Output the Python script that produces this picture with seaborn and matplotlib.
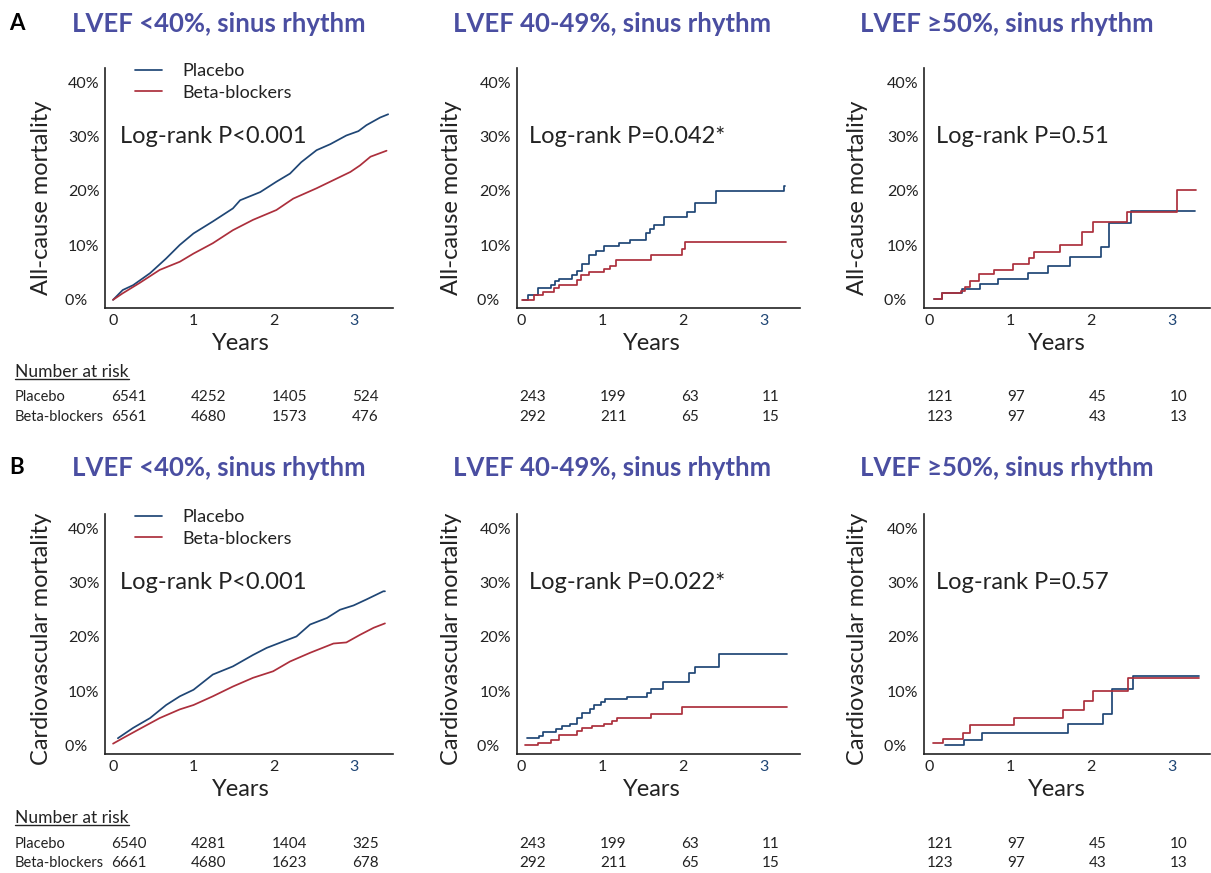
import matplotlib.pyplot as plt
import matplotlib.transforms as mtransforms
from matplotlib.lines import Line2D
import seaborn as sns

# ---- values ----
years = [0, 1, 2, 3]
group_names = ['Placebo', 'Beta-blockers']
col_titles = ['LVEF <40%, sinus rhythm', 'LVEF 40-49%, sinus rhythm', 'LVEF \u226550%, sinus rhythm']
row_letters = ['A', 'B']
row_ylabels = ['All-cause mortality', 'Cardiovascular mortality']
logrank_a = ['Log-rank P<0.001', 'Log-rank P=0.042*', 'Log-rank P=0.51']
logrank_b = ['Log-rank P<0.001', 'Log-rank P=0.022*', 'Log-rank P=0.57']

# number at risk, per column: [placebo, beta-blockers]
risk_a = [[[6541, 4252, 1405, 524], [6561, 4680, 1573, 476]],
          [[243, 199, 63, 11], [292, 211, 65, 15]],
          [[121, 97, 45, 10], [123, 97, 43, 13]]]
risk_b = [[[6540, 4281, 1404, 325], [6661, 4680, 1623, 678]],
          [[243, 199, 63, 11], [292, 211, 65, 15]],
          [[121, 97, 45, 10], [123, 97, 43, 13]]]

# cumulative mortality (%) vs years
a1_plac_t = [0, 0.12, 0.25, 0.46, 0.66, 0.83, 1.0, 1.24, 1.49, 1.58, 1.83, 2.03, 2.20, 2.34, 2.53, 2.70, 2.90, 3.05, 3.15, 3.32, 3.42]
a1_plac_y = [0, 1.8, 2.7, 4.9, 7.6, 10.1, 12.2, 14.4, 16.8, 18.3, 19.8, 21.7, 23.2, 25.3, 27.5, 28.6, 30.2, 31.0, 32.1, 33.5, 34.1]
a1_beta_t = [0, 0.12, 0.33, 0.58, 0.83, 1.0, 1.24, 1.49, 1.74, 2.03, 2.24, 2.53, 2.74, 2.95, 3.07, 3.20, 3.40]
a1_beta_y = [0, 1.2, 3.1, 5.5, 7.0, 8.5, 10.4, 12.8, 14.7, 16.5, 18.6, 20.5, 22.0, 23.5, 24.7, 26.3, 27.4]

a2_plac_t = [0.02, 0.074, 0.2, 0.37, 0.41, 0.46, 0.62, 0.68, 0.75, 0.84, 0.92, 1.02, 1.21, 1.34, 1.54, 1.59, 1.64, 1.76, 2.05, 2.14, 2.41, 3.25, 3.26]
a2_plac_y = [0, 0.9, 2.1, 2.7, 3.5, 3.9, 4.5, 5.3, 6.5, 8.2, 8.9, 9.9, 10.4, 11.0, 12.2, 13.1, 13.8, 15.2, 16.1, 17.8, 20.0, 21.0, 21.0]
a2_beta_t = [0, 0.15, 0.27, 0.40, 0.46, 0.68, 0.74, 0.84, 1.02, 1.10, 1.17, 1.60, 1.98, 2.02, 3.27]
a2_beta_y = [0, 0.9, 1.5, 2.2, 2.8, 3.7, 4.6, 5.1, 5.6, 6.3, 7.3, 8.3, 9.3, 10.6, 10.6]

a3_plac_t = [0.066, 0.164, 0.41, 0.63, 0.85, 1.22, 1.47, 1.74, 2.12, 2.22, 2.49, 3.28]
a3_plac_y = [0.1, 1.2, 2.0, 2.9, 3.8, 4.9, 6.3, 7.9, 9.8, 14.2, 16.4, 16.4]
a3_beta_t = [0.066, 0.164, 0.395, 0.452, 0.506, 0.617, 0.802, 1.04, 1.24, 1.30, 1.62, 1.89, 2.02, 2.45, 3.06, 3.30]
a3_beta_y = [0.1, 1.2, 1.7, 2.4, 3.5, 4.8, 5.4, 6.6, 7.6, 8.7, 10.0, 12.4, 14.3, 16.1, 20.2, 20.2]

b1_plac_t = [0.06, 0.25, 0.46, 0.66, 0.83, 1.0, 1.24, 1.49, 1.74, 1.91, 2.12, 2.28, 2.45, 2.66, 2.82, 2.99, 3.15, 3.36, 3.38]
b1_plac_y = [1.4, 3.3, 5.1, 7.5, 9.1, 10.3, 13.1, 14.6, 16.7, 18.0, 19.2, 20.1, 22.3, 23.5, 25.0, 25.8, 26.9, 28.4, 28.4]
b1_beta_t = [0, 0.12, 0.33, 0.58, 0.83, 1.0, 1.24, 1.49, 1.74, 1.99, 2.20, 2.45, 2.74, 2.90, 3.07, 3.24, 3.38]
b1_beta_y = [0.4, 1.4, 3.1, 5.1, 6.7, 7.5, 9.1, 10.9, 12.5, 13.7, 15.5, 17.1, 18.8, 19.0, 20.4, 21.7, 22.5]

b2_plac_t = [0.07, 0.21, 0.26, 0.37, 0.42, 0.50, 0.60, 0.68, 0.75, 0.85, 0.90, 0.98, 1.03, 1.30, 1.55, 1.60, 1.75, 2.07, 2.14, 2.44, 3.28]
b2_plac_y = [1.5, 1.8, 2.5, 2.6, 3.1, 3.7, 4.0, 5.1, 6.1, 6.7, 7.5, 8.0, 8.6, 8.9, 9.7, 10.5, 11.7, 13.4, 14.4, 16.8, 16.8]
b2_beta_t = [0.04, 0.20, 0.37, 0.46, 0.68, 0.75, 0.87, 1.02, 1.12, 1.18, 1.60, 1.98, 3.28]
b2_beta_y = [0.2, 0.6, 1.1, 1.9, 2.8, 3.3, 3.7, 4.1, 4.5, 5.2, 5.9, 7.1, 7.1]

b3_plac_t = [0.20, 0.43, 0.65, 1.72, 2.15, 2.26, 2.52, 3.34]
b3_plac_y = [0.2, 1.0, 2.3, 4.0, 5.9, 10.4, 12.9, 12.9]
b3_beta_t = [0.05, 0.17, 0.42, 0.51, 1.05, 1.66, 1.91, 2.02, 2.46, 3.34]
b3_beta_y = [0.5, 1.3, 2.4, 3.9, 5.1, 6.6, 8.3, 10.0, 12.5, 12.5]

curves = [
    [(a1_plac_t, a1_plac_y, a1_beta_t, a1_beta_y),
     (a2_plac_t, a2_plac_y, a2_beta_t, a2_beta_y),
     (a3_plac_t, a3_plac_y, a3_beta_t, a3_beta_y)],
    [(b1_plac_t, b1_plac_y, b1_beta_t, b1_beta_y),
     (b2_plac_t, b2_plac_y, b2_beta_t, b2_beta_y),
     (b3_plac_t, b3_plac_y, b3_beta_t, b3_beta_y)],
]

# ---- style ----
sns.set_theme(style='white')
plt.rcParams['font.family'] = ['Lato', 'DejaVu Sans']
plt.rcParams['text.color'] = '#222222'

PLACEBO = '#1f4675'
BETA = '#ac2f3c'
TITLE = '#4a4ea1'
INK = '#222222'

W, H = 1211, 873
fig = plt.figure(figsize=(W / 100, H / 100), dpi=100)

col_left = [105, 516.7, 924]
col_width = [288, 283, 286]
col_xlim = [(-0.1, 3.48), (-0.06, 3.44), (-0.06, 3.47)]
col_title_x = [219, 612, 1007]
col_ylab_x = [-0.184, -0.193, -0.196]
col_xlab_x = [0.47, 0.477, 0.464]
row_top = [68, 514]
row_title_y = [24, 468]
row_risk_y = [(372, 397, 417), (818, 844, 863)]
AX_H = 240


def fy(py):
    return 1 - py / H


header_texts = []
for r in range(2):
    risks = risk_a if r == 0 else risk_b
    pvals = logrank_a if r == 0 else logrank_b
    fig.text(9 / W, fy(row_title_y[r]), row_letters[r], fontsize=16, fontweight='bold',
             color='black', va='center', ha='left')
    for c in range(3):
        ax = fig.add_axes([col_left[c] / W, fy(row_top[r] + AX_H), col_width[c] / W, AX_H / H])
        pt, py, bt, by = curves[r][c]
        ds = 'default' if c == 0 else 'steps-post'
        sns.lineplot(x=pt, y=py, ax=ax, color=PLACEBO, lw=1.25, estimator=None, sort=False,
                     drawstyle=ds, label=group_names[0])
        sns.lineplot(x=bt, y=by, ax=ax, color=BETA, lw=1.25, estimator=None, sort=False,
                     drawstyle=ds, label=group_names[1])

        ax.set_xlim(*col_xlim[c])
        ax.set_ylim(-1.5, 42.6)
        ax.set_xticks(years)
        ax.set_yticks([0, 10, 20, 30, 40])
        ax.set_yticklabels(['0%   ', '10%', '20%', '30%', '40%'])
        ax.tick_params(direction='in', length=6, width=1.1, color=INK, labelcolor=INK,
                       labelsize=11.5, pad=4)
        ax.get_xticklabels()[3].set_color(PLACEBO)
        for s in ['top', 'right']:
            ax.spines[s].set_visible(False)
        for s in ['left', 'bottom']:
            ax.spines[s].set_color(INK)
            ax.spines[s].set_linewidth(1.2)

        ax.set_xlabel('Years', fontsize=17, color=INK)
        ax.xaxis.set_label_coords(col_xlab_x[c], -0.105)
        ax.set_ylabel(row_ylabels[r], fontsize=17, color=INK)
        ax.yaxis.set_label_coords(col_ylab_x[c], 0.46 if r == 0 else 0.48)

        ax.text(0.09, 30, pvals[c], fontsize=17, color=INK, va='center', ha='left')

        if c == 0:
            ax.legend(loc='upper left', bbox_to_anchor=(0.104, 1.02), frameon=False,
                      fontsize=13, handlelength=1.5, handletextpad=1.1, labelspacing=0.3,
                      borderaxespad=0, borderpad=0)
        elif ax.get_legend() is not None:
            ax.get_legend().remove()

        fig.text(col_title_x[c] / W, fy(row_title_y[r]), col_titles[c], fontsize=18.5,
                 fontweight='bold', color=TITLE, ha='center', va='center')

        # number at risk table
        hy, y1, y2 = row_risk_y[r]
        tr = mtransforms.blended_transform_factory(ax.transData, fig.transFigure)
        if c == 0:
            header_texts.append(fig.text(15 / W, fy(hy), 'Number at risk', fontsize=12.5,
                                         va='center', ha='left'))
            fig.text(15 / W, fy(y1), group_names[0], fontsize=10.5, va='center', ha='left')
            fig.text(15 / W, fy(y2), group_names[1], fontsize=10.5, va='center', ha='left')
        for i, yr in enumerate(years):
            ax.text(yr - 0.03, fy(y1), str(risks[c][0][i]), transform=tr, fontsize=11,
                    va='center', ha='left')
            ax.text(yr - 0.03, fy(y2), str(risks[c][1][i]), transform=tr, fontsize=11,
                    va='center', ha='left')

# underline the "Number at risk" headers
fig.canvas.draw()
renderer = fig.canvas.get_renderer()
for t in header_texts:
    bb = t.get_window_extent(renderer)
    fig.add_artist(Line2D([bb.x0 / W, bb.x1 / W], [(bb.y0 + 1) / H, (bb.y0 + 1) / H],
                          transform=fig.transFigure, color=INK, lw=1.0))

fig.savefig('out.png', dpi=100)
